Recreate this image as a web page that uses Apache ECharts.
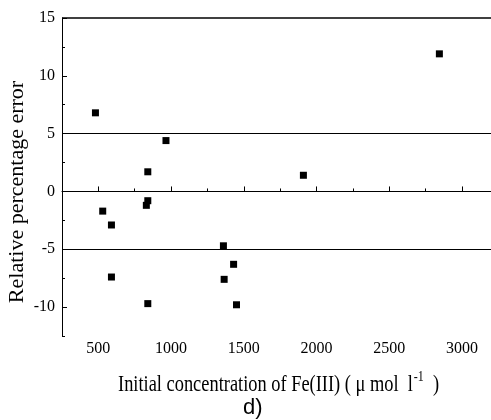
<!DOCTYPE html>
<html><head><meta charset="utf-8">
<script src="https://cdn.jsdelivr.net/npm/echarts@6/dist/echarts.min.js"></script>
<style>html,body{margin:0;padding:0;background:#fff}#c{width:491px;height:420px}</style>
</head><body><div id="c"></div>
<script>
const concentration = [480, 965, 840, 2845, 1910, 530, 840, 830, 590, 1360, 1430, 590, 1365, 840, 1450];
const relError = [6.8, 4.4, 1.7, 11.9, 1.4, -1.7, -0.8, -1.2, -2.9, -4.7, -6.3, -7.4, -7.6, -9.7, -9.8];
const xMajorTicks = [500, 1000, 1500, 2000, 2500, 3000];
const xMinorTicks = [250, 750, 1250, 1750, 2250, 2750];
const yMajorTicks = [-10, -5, 0, 5, 10, 15];
const yMinorTicks = [-12.5, -7.5, -2.5, 2.5, 7.5, 12.5];
const refLines = [5, -5];
const xTitle = 'Initial concentration of Fe(III) ( \u03bc mol  l';
const yTitle = 'Relative percentage error';
const panelLabel = 'd)';

const font = 'Liberation Serif';
const chart = echarts.init(document.getElementById('c'), null, {renderer: 'canvas'});
const pts = concentration.map((x, i) => [x, relError[i]]);
const axisBase = {type: 'value', splitLine: {show: false}};
chart.setOption({
  animation: false,
  grid: {left: 62, top: 18, right: 0, bottom: 84, containLabel: false},
  xAxis: [
    Object.assign({}, axisBase, {
      min: 250, max: 3200,
      axisLine: {show: true, lineStyle: {color: '#000', width: 1}},
      axisTick: {show: true, inside: true, length: 5, customValues: xMajorTicks, lineStyle: {color: '#000'}},
      axisLabel: {show: true, customValues: xMajorTicks, formatter: v => String(v), color: '#000', fontFamily: font, fontSize: 16, margin: 5}
    }),
    Object.assign({}, axisBase, {
      min: 250, max: 3200, position: 'bottom',
      axisLine: {show: false},
      axisTick: {show: true, inside: true, length: 3, customValues: xMinorTicks, lineStyle: {color: '#000'}},
      axisLabel: {show: false}
    })
  ],
  yAxis: [
    Object.assign({}, axisBase, {
      min: -12.5, max: 15,
      axisLine: {show: true, lineStyle: {color: '#000', width: 1}},
      axisTick: {show: true, inside: true, length: 5, customValues: yMajorTicks, lineStyle: {color: '#000'}},
      axisLabel: {show: true, customValues: yMajorTicks, color: '#000', fontFamily: font, fontSize: 16, margin: 7}
    }),
    Object.assign({}, axisBase, {
      min: -12.5, max: 15, position: 'left',
      axisLine: {show: false},
      axisTick: {show: true, inside: true, length: 3, customValues: yMinorTicks, lineStyle: {color: '#000'}},
      axisLabel: {show: false}
    })
  ],
  series: [{
    type: 'scatter',
    xAxisIndex: 0, yAxisIndex: 0,
    data: pts,
    symbol: 'rect',
    symbolSize: 7,
    itemStyle: {color: '#000', opacity: 1},
    markLine: {
      silent: true, symbol: 'none', label: {show: false},
      lineStyle: {color: '#000', width: 1, type: 'solid'},
      data: refLines.map(v => ({yAxis: v})).concat([{yAxis: 15, lineStyle: {width: 1.6, color: '#000', type: 'solid'}}])
    }
  }],
  graphic: [
    {type: 'text', x: 118, y: 370, scaleX: 0.8, scaleY: 1, style: {
      text: '{n|' + xTitle + '}{s|-1}{n|  )}',
      textAlign: 'left', textVerticalAlign: 'top',
      rich: {
        n: {fontFamily: font, fontSize: 23, fill: '#000', verticalAlign: 'bottom', lineHeight: 26},
        s: {fontFamily: font, fontSize: 15, fill: '#000', verticalAlign: 'top', lineHeight: 26, padding: [0, 0, 10, 1]}
      }
    }},
    {type: 'text', x: 17, y: 192, rotation: Math.PI / 2, style: {
      text: yTitle, textAlign: 'center', textVerticalAlign: 'middle',
      fontFamily: font, fontSize: 22, fill: '#000'
    }},
    {type: 'text', x: 243, y: 397, style: {text: panelLabel, textAlign: 'left', textVerticalAlign: 'top', fontFamily: 'Liberation Sans', fontSize: 22, fill: '#000'}}
  ]
});
</script></body></html>
